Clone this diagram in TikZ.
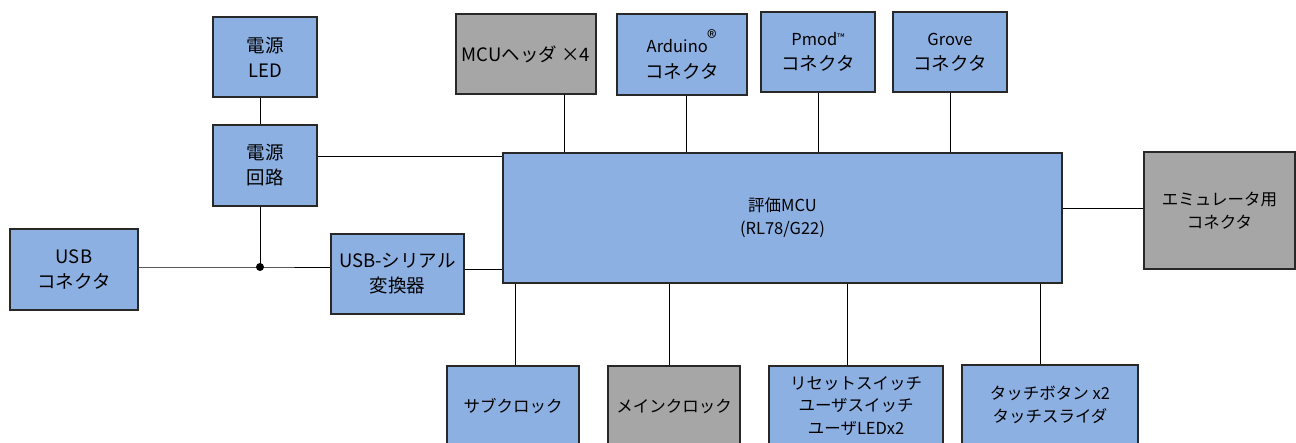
\documentclass[tikz,border=0pt]{standalone}
\usepackage{fontspec}
\setmainfont{Noto Sans CJK JP}
\definecolor{boxblue}{RGB}{141,176,226}
\definecolor{boxgray}{RGB}{166,166,166}
\definecolor{edge}{RGB}{40,40,40}
\tikzset{
  blk/.style={draw=edge, line width=1.3pt, inner sep=0pt, align=center,
    font=\fontsize{18.5}{25}\selectfont, text=black},
  bbox/.style={blk, fill=boxblue},
  gbox/.style={blk, fill=boxgray},
  small/.style={font=\fontsize{16.5}{23}\selectfont},
  wire/.style={draw=black, line width=1pt},
}
\begin{document}
\begin{tikzpicture}[x=1pt,y=-1pt]
\clip (0,0) rectangle (1296,442);
\fill[white] (0,0) rectangle (1296,442);
% nodes
\node[bbox, minimum width=104, minimum height=80] (led) at (265,57) {電源\\LED};
\node[bbox, minimum width=104, minimum height=81] (pwr) at (265,165.5) {電源\\回路};
\node[bbox, minimum width=128, minimum height=81] (usb) at (74,269.5) {USB\\コネクタ};
\node[bbox, minimum width=133, minimum height=80] (ser) at (397.5,274) {USB-シリアル\\変換器};
\node[gbox, minimum width=140, minimum height=80] (hdr) at (526,54) {MCUヘッダ ×4};
\node[bbox, minimum width=130, minimum height=81] (ard) at (682,54.5) {{\fontsize{16.5}{23}\selectfont Arduino}\raisebox{7pt}{\fontsize{20}{20}\selectfont ®}\\[1pt]コネクタ};
\node[bbox, minimum width=114, minimum height=80] (pmod) at (818,52) {{\fontsize{16.5}{23}\selectfont Pmod}\raisebox{4pt}{\fontsize{10}{10}\selectfont ™}\\コネクタ};
\node[bbox, minimum width=114, minimum height=80] (grove) at (950,52) {{\fontsize{16.5}{23}\selectfont Grove}\\コネクタ};
\node[bbox, minimum width=559, minimum height=130, small] (mcu) at (782.5,218) {評価MCU\\(RL78/G22)};
\node[gbox, minimum width=151, minimum height=117, small] (emu) at (1219.5,210.5) {エミュレータ用\\コネクタ};
\node[bbox, minimum width=132, minimum height=80, small] (sub) at (513,406) {サブクロック};
\node[gbox, minimum width=132, minimum height=80, small] (mainclk) at (674,406) {メインクロック};
\node[bbox, minimum width=174, minimum height=80, font=\fontsize{16.5}{22.5}\selectfont] (reset) at (856,406) {リセットスイッチ\\ユーザスイッチ\\ユーザLEDx2};
\node[bbox, minimum width=176, minimum height=80, small] (touch) at (1050,405) {タッチボタン x2\\タッチスライダ};
% connectors
\coordinate (j) at (260,267);
\draw[wire] ([xshift=-5pt]led.south) -- ([xshift=-5pt]pwr.north);
\draw[wire] ([xshift=-5pt]pwr.south) -- (j);
\draw[wire] (usb.east |- j) -- (j) -- (ser.west |- j);
\fill (j) circle (4);
\draw[wire] ([yshift=9.5pt]pwr.east) -- ([yshift=9.5pt]pwr.east -| mcu.west);
\draw[wire] ([yshift=5pt]ser.east) -- ([yshift=5pt]ser.east -| mcu.west);
\draw[wire] ([xshift=38pt]hdr.south) -- ([xshift=38pt]hdr.south |- mcu.north);
\draw[wire] ([xshift=4pt]ard.south) -- ([xshift=4pt]ard.south |- mcu.north);
\draw[wire] (pmod.south) -- (pmod.south |- mcu.north);
\draw[wire] (grove.south) -- (grove.south |- mcu.north);
\draw[wire] ([yshift=2.5pt]emu.west) -- ([yshift=2.5pt]emu.west -| mcu.east);
\draw[wire] ([xshift=2pt]sub.north) -- ([xshift=2pt]sub.north |- mcu.south);
\draw[wire] ([xshift=-5pt]mainclk.north) -- ([xshift=-5pt]mainclk.north |- mcu.south);
\draw[wire] ([xshift=-9pt]reset.north) -- ([xshift=-9pt]reset.north |- mcu.south);
\draw[wire] ([xshift=-10pt]touch.north) -- ([xshift=-10pt]touch.north |- mcu.south);
\end{tikzpicture}
\end{document}
